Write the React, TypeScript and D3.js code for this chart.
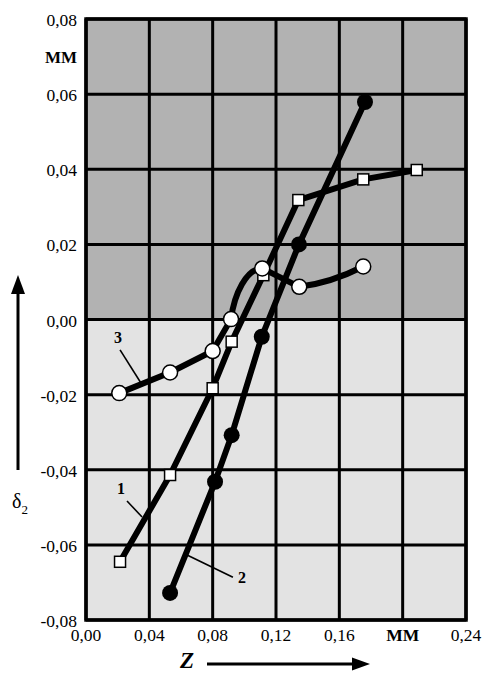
import React from "react";
import * as d3 from "d3";

// ---- data ----
const xTicks = [0, 0.04, 0.08, 0.12, 0.16, 0.2, 0.24];
const xTickLabels = ["0,00", "0,04", "0,08", "0,12", "0,16", "MM", "0,24"];
const yTicks = [0.08, 0.06, 0.04, 0.02, 0, -0.02, -0.04, -0.06, -0.08];
const yTickLabels = ["0,08", "0,06", "0,04", "0,02", "0,00", "-0,02", "-0,04", "-0,06", "-0,08"];
const yUnitLabel = "MM";
const yUnitAt = 0.07;

const s1X = [0.0215, 0.0531, 0.08, 0.092, 0.112, 0.1341, 0.1751, 0.2089];
const s1Y = [-0.0645, -0.0414, -0.0183, -0.0059, 0.0118, 0.0318, 0.0373, 0.0398];
const s2X = [0.0531, 0.0815, 0.092, 0.111, 0.1345, 0.1762];
const s2Y = [-0.0728, -0.0432, -0.0308, -0.0046, 0.02, 0.0579];
const s3X = [0.021, 0.0531, 0.08, 0.0916, 0.1113, 0.1347, 0.1751];
const s3Y = [-0.0196, -0.0141, -0.0084, 0.0001, 0.0136, 0.0087, 0.0141];

const labelText = ["1", "2", "3"];
const labelX = [0.0221, 0.0985, 0.0202];
const labelY = [-0.0451, -0.0688, -0.0049];
const leaderX1 = [0.0259, 0.0638, 0.0215];
const leaderY1 = [-0.0483, -0.0627, -0.0081];
const leaderX2 = [0.0354, 0.0928, 0.0347];
const leaderY2 = [-0.0526, -0.0686, -0.0169];

const W = 482;
const H = 673;
const serif = "'Liberation Serif', 'Times New Roman', serif";

export default function App() {
  const x = d3.scaleLinear().domain([0, 0.24]).range([86, 466]);
  const y = d3.scaleLinear().domain([-0.08, 0.08]).range([620, 19]);

  const pts = (xs: number[], ys: number[]) => xs.map((v, i) => [x(v), y(ys[i])] as [number, number]);
  const p1 = pts(s1X, s1Y);
  const p2 = pts(s2X, s2Y);
  const p3 = pts(s3X, s3Y);
  const line = d3.line();

  // series 3: hand-drawn style path
  const path3 = d3.path();
  path3.moveTo(p3[0][0], p3[0][1]);
  for (let i = 1; i <= 3; i++) path3.lineTo(p3[i][0], p3[i][1]);
  {
    const [ax, ay] = p3[3];
    const [bx, by] = p3[4];
    const dx = bx - ax;
    const dy = by - ay;
    path3.bezierCurveTo(ax + 0.1 * dx, ay + 0.5 * dy, ax + 0.5 * dx, by, bx, by);
  }
  path3.lineTo(p3[5][0], p3[5][1]);
  {
    const [ax, ay] = p3[5];
    const [bx, by] = p3[6];
    path3.quadraticCurveTo(ax + 0.5 * (bx - ax), ay + 0.2 * (by - ay), bx, by);
  }

  const x0 = x(0), x1 = x(0.24), yTop = y(0.08), yZero = y(0), yBot = y(-0.08);

  return (
    <svg width={W} height={H} style={{ position: "absolute", left: 0, top: 0, background: "#fff" }}>
      <rect x={x0} y={yTop} width={x1 - x0} height={yZero - yTop} fill="#b2b2b2" />
      <rect x={x0} y={yZero} width={x1 - x0} height={yBot - yZero} fill="#e3e3e3" />
      {xTicks.map((t, i) => (
        <line key={"gx" + i} x1={x(t)} x2={x(t)} y1={yTop} y2={yBot} stroke="#000" strokeWidth={3} />
      ))}
      {yTicks.map((t, i) => (
        <line key={"gy" + i} x1={x0} x2={x1} y1={y(t)} y2={y(t)} stroke="#000" strokeWidth={3} />
      ))}
      <rect x={x0} y={yTop} width={x1 - x0} height={yBot - yTop} fill="none" stroke="#000" strokeWidth={3.5} />

      {/* tick labels */}
      {yTicks.map((t, i) => (
        <text key={"ty" + i} x={77} y={y(t) + 7} textAnchor="end" fontFamily={serif} fontSize={17.5} fill="#000">
          {yTickLabels[i]}
        </text>
      ))}
      <text x={77} y={y(yUnitAt) + 6} textAnchor="end" fontFamily={serif} fontSize={17} fontWeight="bold" fill="#000">
        {yUnitLabel}
      </text>
      {xTicks.map((t, i) => (
        <text key={"tx" + i} x={x(t)} y={641} textAnchor="middle" fontFamily={serif} fontSize={17.5}
          fontWeight={xTickLabels[i] === "MM" ? "bold" : "normal"} fill="#000">
          {xTickLabels[i]}
        </text>
      ))}

      {/* axis titles */}
      <text x={187} y={668} textAnchor="middle" fontFamily={serif} fontSize={23} fontWeight="bold" fontStyle="italic" fill="#000">Z</text>
      <line x1={207} x2={354} y1={664} y2={664} stroke="#000" strokeWidth={3} />
      <path d="M370,664 L352,657.5 L352,670.5 Z" fill="#000" />
      <line x1={18} x2={18} y1={470} y2={292} stroke="#000" strokeWidth={3} />
      <path d="M18,275 L11,294 L25,294 Z" fill="#000" />
      <text x={12} y={508} fontFamily={serif} fontSize={20} fill="#000">
        δ<tspan fontSize={13} dy={6}>2</tspan>
      </text>

      {/* leader lines and labels */}
      {labelText.map((t, i) => (
        <g key={"lab" + i}>
          <line x1={x(leaderX1[i])} y1={y(leaderY1[i])} x2={x(leaderX2[i])} y2={y(leaderY2[i])} stroke="#000" strokeWidth={1.6} />
          <text x={x(labelX[i])} y={y(labelY[i])} textAnchor="middle" dominantBaseline="central" fontFamily={serif}
            fontSize={16} fontWeight="bold" fill="#000">{t}</text>
        </g>
      ))}

      {/* series lines */}
      <path d={line(p1) || ""} fill="none" stroke="#000" strokeWidth={6} strokeLinejoin="round" />
      <path d={line(p2) || ""} fill="none" stroke="#000" strokeWidth={6} strokeLinejoin="round" />
      <path d={path3.toString()} fill="none" stroke="#000" strokeWidth={6} strokeLinejoin="round" />

      {/* markers */}
      {p1.map(([px, py], i) => (
        <rect key={"m1" + i} x={px - 5.5} y={py - 5.5} width={11} height={11} fill="#fff" stroke="#000" strokeWidth={1.5} />
      ))}
      {p2.map(([px, py], i) => (
        <circle key={"m2" + i} cx={px} cy={py} r={8} fill="#000" />
      ))}
      {p3.map(([px, py], i) => (
        <circle key={"m3" + i} cx={px} cy={py} r={7.5} fill="#fff" stroke="#000" strokeWidth={1.5} />
      ))}
    </svg>
  );
}
